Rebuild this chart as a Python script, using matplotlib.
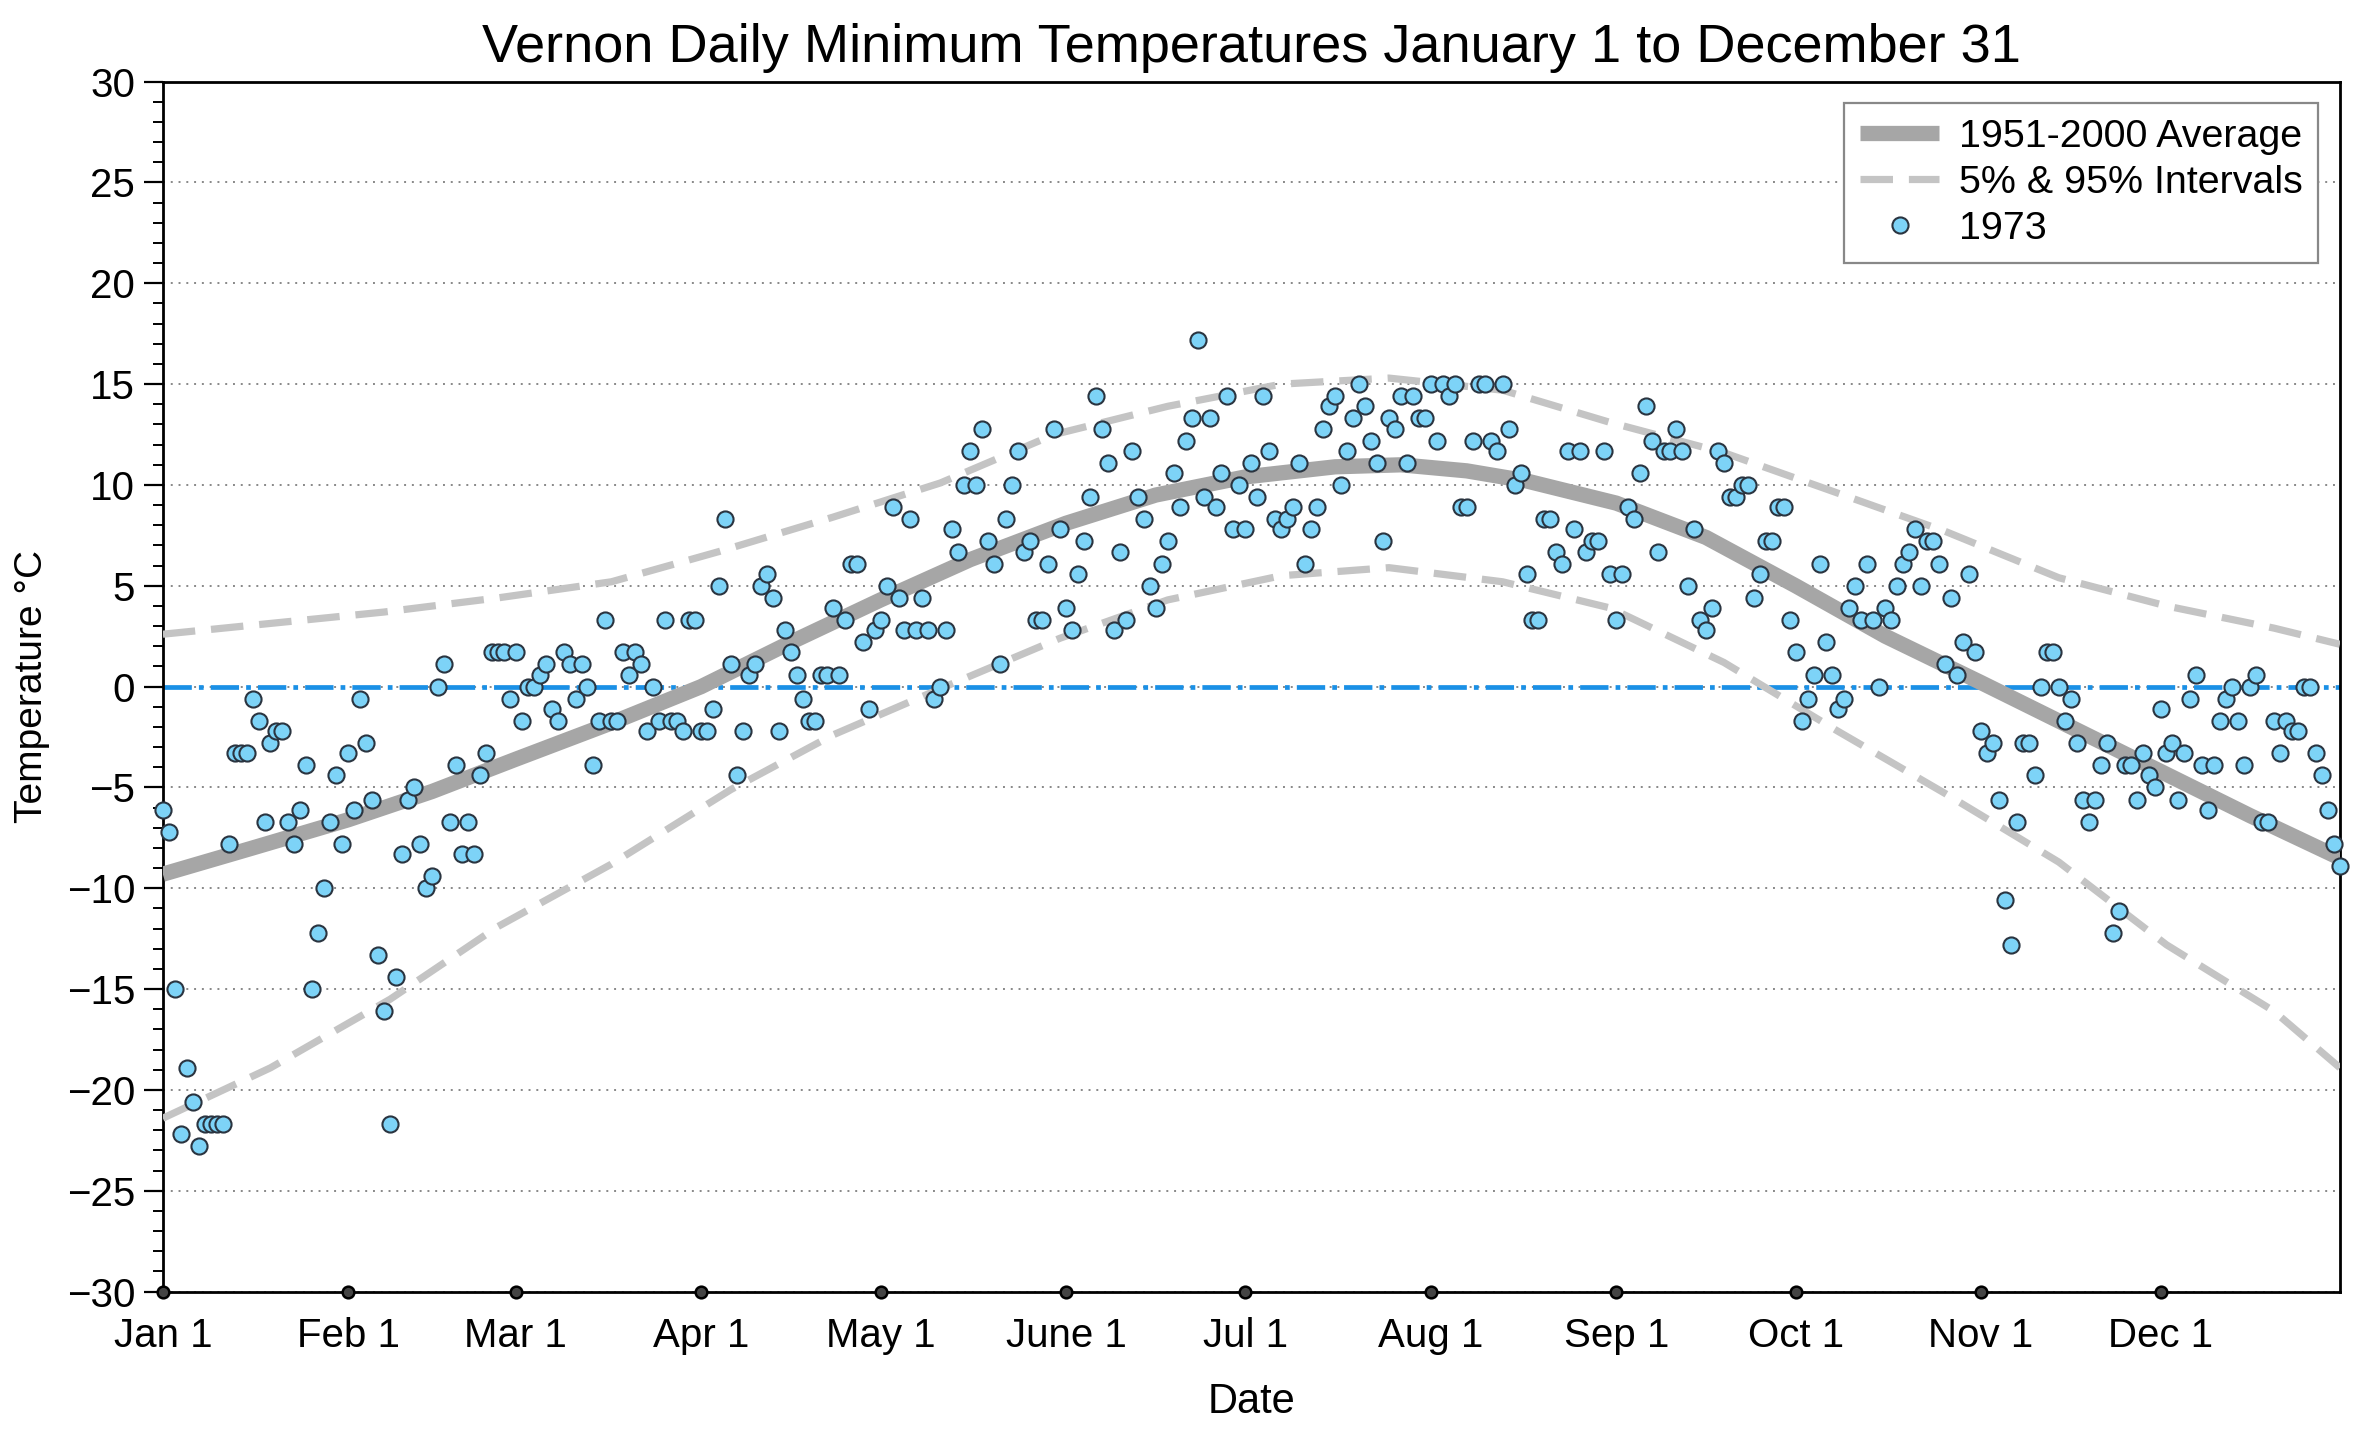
import matplotlib
matplotlib.use('Agg')
import matplotlib.pyplot as plt
import numpy as np

plt.rcParams['font.family'] = ['Liberation Sans', 'DejaVu Sans']

# 1973 daily minimum temperatures (deg C), Jan 1 .. Dec 31
temps = [
    # Jan
    -6.1, -7.2, -15.0, -22.2, -18.9, -20.6, -22.8, -21.7, -21.7, -21.7, -21.7,
    -7.8, -3.3, -3.3, -3.3, -0.6, -1.7, -6.7, -2.8, -2.2, -2.2, -6.7, -7.8,
    -6.1, -3.9, -15.0, -12.2, -10.0, -6.7, -4.4, -7.8,
    # Feb
    -3.3, -6.1, -0.6, -2.8, -5.6, -13.3, -16.1, -21.7, -14.4, -8.3, -5.6,
    -5.0, -7.8, -10.0, -9.4, 0.0, 1.1, -6.7, -3.9, -8.3, -6.7, -8.3, -4.4,
    -3.3, 1.7, 1.7, 1.7, -0.6,
    # Mar
    1.7, -1.7, 0.0, 0.0, 0.6, 1.1, -1.1, -1.7, 1.7, 1.1, -0.6, 1.1, 0.0,
    -3.9, -1.7, 3.3, -1.7, -1.7, 1.7, 0.6, 1.7, 1.1, -2.2, 0.0, -1.7, 3.3,
    -1.7, -1.7, -2.2, 3.3, 3.3,
    # Apr
    -2.2, -2.2, -1.1, 5.0, 8.3, 1.1, -4.4, -2.2, 0.6, 1.1, 5.0, 5.6, 4.4,
    -2.2, 2.8, 1.7, 0.6, -0.6, -1.7, -1.7, 0.6, 0.6, 3.9, 0.6, 3.3, 6.1,
    6.1, 2.2, -1.1, 2.8,
    # May
    3.3, 5.0, 8.9, 4.4, 2.8, 8.3, 2.8, 4.4, 2.8, -0.6, 0.0, 2.8, 7.8, 6.7,
    10.0, 11.7, 10.0, 12.8, 7.2, 6.1, 1.1, 8.3, 10.0, 11.7, 6.7, 7.2, 3.3,
    3.3, 6.1, 12.8, 7.8,
    # June
    3.9, 2.8, 5.6, 7.2, 9.4, 14.4, 12.8, 11.1, 2.8, 6.7, 3.3, 11.7, 9.4, 8.3,
    5.0, 3.9, 6.1, 7.2, 10.6, 8.9, 12.2, 13.3, 17.2, 9.4, 13.3, 8.9, 10.6,
    14.4, 7.8, 10.0,
    # Jul
    7.8, 11.1, 9.4, 14.4, 11.7, 8.3, 7.8, 8.3, 8.9, 11.1, 6.1, 7.8, 8.9,
    12.8, 13.9, 14.4, 10.0, 11.7, 13.3, 15.0, 13.9, 12.2, 11.1, 7.2, 13.3,
    12.8, 14.4, 11.1, 14.4, 13.3, 13.3,
    # Aug
    15.0, 12.2, 15.0, 14.4, 15.0, 8.9, 8.9, 12.2, 15.0, 15.0, 12.2, 11.7,
    15.0, 12.8, 10.0, 10.6, 5.6, 3.3, 3.3, 8.3, 8.3, 6.7, 6.1, 11.7, 7.8,
    11.7, 6.7, 7.2, 7.2, 11.7, 5.6,
    # Sep
    3.3, 5.6, 8.9, 8.3, 10.6, 13.9, 12.2, 6.7, 11.7, 11.7, 12.8, 11.7, 5.0,
    7.8, 3.3, 2.8, 3.9, 11.7, 11.1, 9.4, 9.4, 10.0, 10.0, 4.4, 5.6, 7.2,
    7.2, 8.9, 8.9, 3.3,
    # Oct
    1.7, -1.7, -0.6, 0.6, 6.1, 2.2, 0.6, -1.1, -0.6, 3.9, 5.0, 3.3, 6.1,
    3.3, 0.0, 3.9, 3.3, 5.0, 6.1, 6.7, 7.8, 5.0, 7.2, 7.2, 6.1, 1.1, 4.4,
    0.6, 2.2, 5.6, 1.7,
    # Nov
    -2.2, -3.3, -2.8, -5.6, -10.6, -12.8, -6.7, -2.8, -2.8, -4.4, 0.0, 1.7,
    1.7, 0.0, -1.7, -0.6, -2.8, -5.6, -6.7, -5.6, -3.9, -2.8, -12.2, -11.1,
    -3.9, -3.9, -5.6, -3.3, -4.4, -5.0,
    # Dec
    -1.1, -3.3, -2.8, -5.6, -3.3, -0.6, 0.6, -3.9, -6.1, -3.9, -1.7, -0.6,
    0.0, -1.7, -3.9, 0.0, 0.6, -6.7, -6.7, -1.7, -3.3, -1.7, -2.2, -2.2,
    0.0, 0.0, -3.3, -4.4, -6.1, -7.8, -8.9,
]
days = np.arange(len(temps))

# 1951-2000 climatology (day of year, deg C)
avg_days = [0, 15, 31, 45, 59, 75, 90, 105, 120, 135, 151, 166, 181, 196,
            207, 218, 228, 243, 258, 273, 288, 304, 319, 334, 349, 364]
avg_vals = [-9.3, -8.0, -6.6, -5.2, -3.6, -1.8, 0.0, 2.2, 4.3, 6.3, 8.1, 9.5,
            10.4, 10.9, 11.0, 10.7, 10.2, 9.1, 7.4, 5.0, 2.5, 0.2, -2.0, -4.2,
            -6.4, -8.5]

p05_days = [0, 18, 38, 56, 75, 95, 112, 130, 150, 168, 187, 205, 224, 242,
            261, 280, 298, 317, 335, 353, 364]
p05_vals = [-21.4, -18.9, -15.5, -11.9, -8.8, -5.1, -2.4, -0.1, 2.4, 4.3, 5.5,
            5.9, 5.2, 3.9, 1.2, -2.2, -5.3, -8.7, -12.8, -16.1, -18.9]

p95_days = [0, 37, 56, 75, 93, 112, 130, 149, 168, 187, 205, 224, 242, 261,
            280, 298, 317, 335, 353, 364]
p95_vals = [2.6, 3.7, 4.4, 5.2, 6.7, 8.4, 10.1, 12.5, 13.9, 15.0, 15.3, 14.7,
            13.1, 11.6, 9.6, 7.7, 5.4, 4.0, 2.9, 2.1]

month_days = [0, 31, 59, 90, 120, 151, 181, 212, 243, 273, 304, 334]
month_labels = ['Jan 1', 'Feb 1', 'Mar 1', 'Apr 1', 'May 1', 'June 1',
                'Jul 1', 'Aug 1', 'Sep 1', 'Oct 1', 'Nov 1', 'Dec 1']

fig, ax = plt.subplots(figsize=(11.8, 7.16), dpi=200)
fig.subplots_adjust(left=0.069, right=0.9915, top=0.943, bottom=0.098)

ax.axhline(0, color='#1a90e6', lw=1.7, dashes=(6, 1.5, 1, 1.5), zorder=2)
ax.plot(avg_days, avg_vals, color='#a6a6a6', lw=5.5, solid_capstyle='butt',
        label='1951-2000 Average', zorder=3)
ax.plot(p95_days, p95_vals, color='#c4c4c4', lw=2.6, dashes=(4.5, 2.2),
        label='5% & 95% Intervals', zorder=3)
ax.plot(p05_days, p05_vals, color='#c4c4c4', lw=2.6, dashes=(4.5, 2.2), zorder=3)
ax.plot(days, temps, 'o', ms=5.8, mfc='#7dd3f7', mec='#2a3440', mew=0.75,
        label='1973', zorder=4, clip_on=False)

ax.set_xlim(0, 364)
ax.set_ylim(-30, 30)
ax.set_yticks(np.arange(-30, 31, 5))
ax.set_yticks(np.arange(-30, 31, 1), minor=True)
ax.set_xticks(month_days)
ax.set_xticklabels(month_labels)
ax.tick_params(axis='y', which='major', direction='out', length=7, width=0.8,
               labelsize=14.5, pad=3)
ax.tick_params(axis='y', which='minor', direction='out', length=3.5, width=0.7)
ax.tick_params(axis='x', length=0, labelsize=14.5, pad=9)
ax.plot(month_days, np.zeros(len(month_days)), 'o', ms=4.2, mfc='#444',
        mec='k', mew=0.9, transform=ax.get_xaxis_transform(), clip_on=False,
        zorder=6)
ax.grid(axis='y', which='major', ls=(0, (1, 3)), color='#888888', lw=0.7)
for s in ax.spines.values():
    s.set_linewidth(1.0)

ax.set_title('Vernon Daily Minimum Temperatures January 1 to December 31',
             fontsize=19.5, pad=7)
ax.set_xlabel('Date', fontsize=15, labelpad=10)
ax.set_ylabel('Temperature \u00b0C', fontsize=14, labelpad=6)

leg = ax.legend(loc='upper right', fontsize=14.2, frameon=True, fancybox=False,
                framealpha=1, edgecolor='#888888', handlelength=2.0,
                handletextpad=0.5, borderaxespad=0.55, labelspacing=0.25,
                borderpad=0.4)
leg.get_frame().set_linewidth(0.8)

plt.savefig('out.png', dpi=200)
